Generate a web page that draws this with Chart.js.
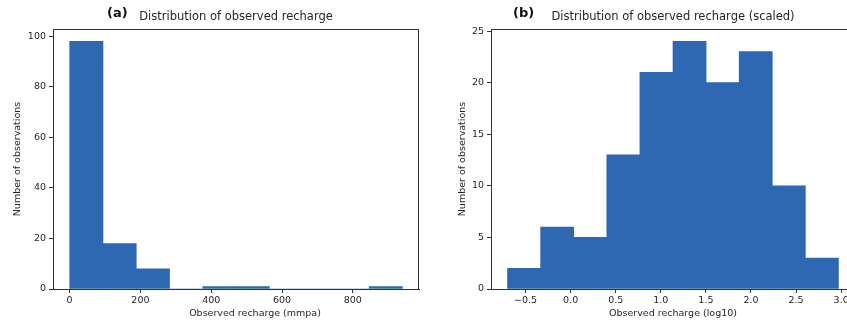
<!DOCTYPE html>
<html>
<head>
<meta charset="utf-8">
<script src="https://cdn.jsdelivr.net/npm/chart.js@4.4.1/dist/chart.umd.min.js"></script>
<style>
  html, body { margin: 0; padding: 0; background: #fff; overflow: hidden; width: 847px; height: 326px; }
  #wrapA { position: absolute; left: 0; top: 0; width: 430px; height: 326px; }
  #wrapB { position: absolute; left: 430px; top: 0; width: 432px; height: 326px; }
</style>
</head>
<body>
<div id="wrapA"><canvas id="chartA" width="430" height="326"></canvas></div>
<div id="wrapB"><canvas id="chartB" width="432" height="326"></canvas></div>
<script>
// (a) recharge brut, en mm par an
const binEdgesA = [0.2, 94.2, 188.2, 282.2, 376.2, 470.2, 564.2, 658.2, 752.2, 846.2, 940.2];
const countsA = [98, 18, 8, 0, 1, 1, 0, 0, 0, 1];
const xTicksA = [0, 200, 400, 600, 800];
const yTicksA = [0, 20, 40, 60, 80, 100];

// (b) recharge en log10
const binEdgesB = [-0.70, -0.333, 0.034, 0.401, 0.768, 1.135, 1.502, 1.869, 2.236, 2.603, 2.970];
const countsB = [2, 6, 5, 13, 21, 24, 20, 23, 10, 3];
const xTicksB = [-0.5, 0.0, 0.5, 1.0, 1.5, 2.0, 2.5, 3.0];
const yTicksB = [0, 5, 10, 15, 20, 25];

const couleurBarre = '#2e67b2';
const police = "'DejaVu Sans', sans-serif";
const couleurTexte = '#262626';

// transforme bords + effectifs en points {x: centre, y: effectif}
function versPoints(bords, effectifs) {
    const pts = [];
    for (let i = 0; i < effectifs.length; i++) {
        pts.push({ x: (bords[i] + bords[i + 1]) / 2, y: effectifs[i] });
    }
    return pts;
}

// cadre complet + titre + lettre du panneau
const cadrePlugin = {
    id: 'cadre',
    afterDraw(chart, args, opts) {
        const ctx = chart.ctx;
        const a = chart.chartArea;
        ctx.save();
        ctx.strokeStyle = '#333';
        ctx.lineWidth = 1;
        ctx.strokeRect(Math.round(a.left) + 0.5, Math.round(a.top) + 0.5,
            Math.round(a.right - a.left) - 1, Math.round(a.bottom - a.top));
        // titre centré sur la zone du graphe
        ctx.fillStyle = couleurTexte;
        ctx.font = '11.5px ' + police;
        ctx.textAlign = 'center';
        ctx.textBaseline = 'middle';
        ctx.fillText(opts.titre, (a.left + a.right) / 2, 17);
        // lettre (a) / (b)
        ctx.fillStyle = '#111';
        ctx.font = 'bold 13px ' + police;
        ctx.textAlign = 'left';
        ctx.fillText(opts.lettre, opts.lettreX, 14);
        ctx.restore();
    }
};

function formatTick(v, decimales) {
    const s = Math.abs(v).toFixed(decimales);
    return v < 0 ? '\u2212' + s : s;
}

function histogramme(idCanvas, bords, effectifs, ticksX, ticksY, cfg) {
    const ctx = document.getElementById(idCanvas).getContext('2d');
    return new Chart(ctx, {
        type: 'bar',
        data: {
            datasets: [{
                label: 'Number of observations',
                data: versPoints(bords, effectifs),
                backgroundColor: couleurBarre,
                borderWidth: 0,
                barPercentage: 1,
                categoryPercentage: 1
            }]
        },
        options: {
            responsive: false,
            animation: false,
            devicePixelRatio: 1,
            layout: { padding: { top: 29, right: cfg.padDroite, left: 0, bottom: 0 } },
            plugins: {
                legend: { display: false },
                tooltip: { enabled: false },
                cadre: { titre: cfg.titre, lettre: cfg.lettre, lettreX: cfg.lettreX }
            },
            scales: {
                x: {
                    type: 'linear',
                    offset: false,
                    min: cfg.xMin,
                    max: cfg.xMax,
                    afterBuildTicks: (s) => { s.ticks = ticksX.map(v => ({ value: v })); },
                    afterFit: (s) => { s.height = 37; },
                    grid: { display: true, offset: false, drawOnChartArea: false, drawTicks: true, tickLength: 4, color: '#333' },
                    border: { display: true, color: '#333' },
                    ticks: {
                        padding: 2,
                        color: couleurTexte,
                        font: { family: police, size: 9.5 },
                        maxRotation: 0,
                        autoSkip: false,
                        callback: (v) => formatTick(v, cfg.decX)
                    },
                    title: {
                        display: true,
                        text: cfg.titreX,
                        color: couleurTexte,
                        font: { family: police, size: 9.5 },
                        padding: { top: 0, bottom: 7 }
                    }
                },
                y: {
                    type: 'linear',
                    min: 0,
                    max: cfg.yMax,
                    afterBuildTicks: (s) => { s.ticks = ticksY.map(v => ({ value: v })); },
                    afterFit: (s) => { s.width = cfg.largeurY; },
                    grid: { display: true, drawOnChartArea: false, drawTicks: true, tickLength: 4, color: '#333' },
                    border: { display: true, color: '#333' },
                    ticks: {
                        padding: 3,
                        color: couleurTexte,
                        font: { family: police, size: 9.5 },
                        autoSkip: false,
                        callback: (v) => String(v)
                    },
                    title: {
                        display: true,
                        text: 'Number of observations',
                        color: couleurTexte,
                        font: { family: police, size: 9.5 },
                        padding: { top: cfg.padTitreY, bottom: 0 }
                    }
                }
            }
        },
        plugins: [cadrePlugin]
    });
}

histogramme('chartA', binEdgesA, countsA, xTicksA, yTicksA, {
    titre: 'Distribution of observed recharge',
    lettre: '(a)',
    lettreX: 107,
    titreX: '\u2003\u2003\u2003\u2003Observed recharge (mmpa)',
    xMin: -47, xMax: 987, yMax: 102.9,
    decX: 0, largeurY: 53, padDroite: 11, padTitreY: 12
});

histogramme('chartB', binEdgesB, countsB, xTicksB, yTicksB, {
    titre: 'Distribution of observed recharge (scaled)',
    lettre: '(b)',
    lettreX: 83,
    titreX: 'Observed recharge (log10)',
    xMin: -0.8835, xMax: 3.1535, yMax: 25.2,
    decX: 1, largeurY: 61, padDroite: 7, padTitreY: 27
});
</script>
</body>
</html>
